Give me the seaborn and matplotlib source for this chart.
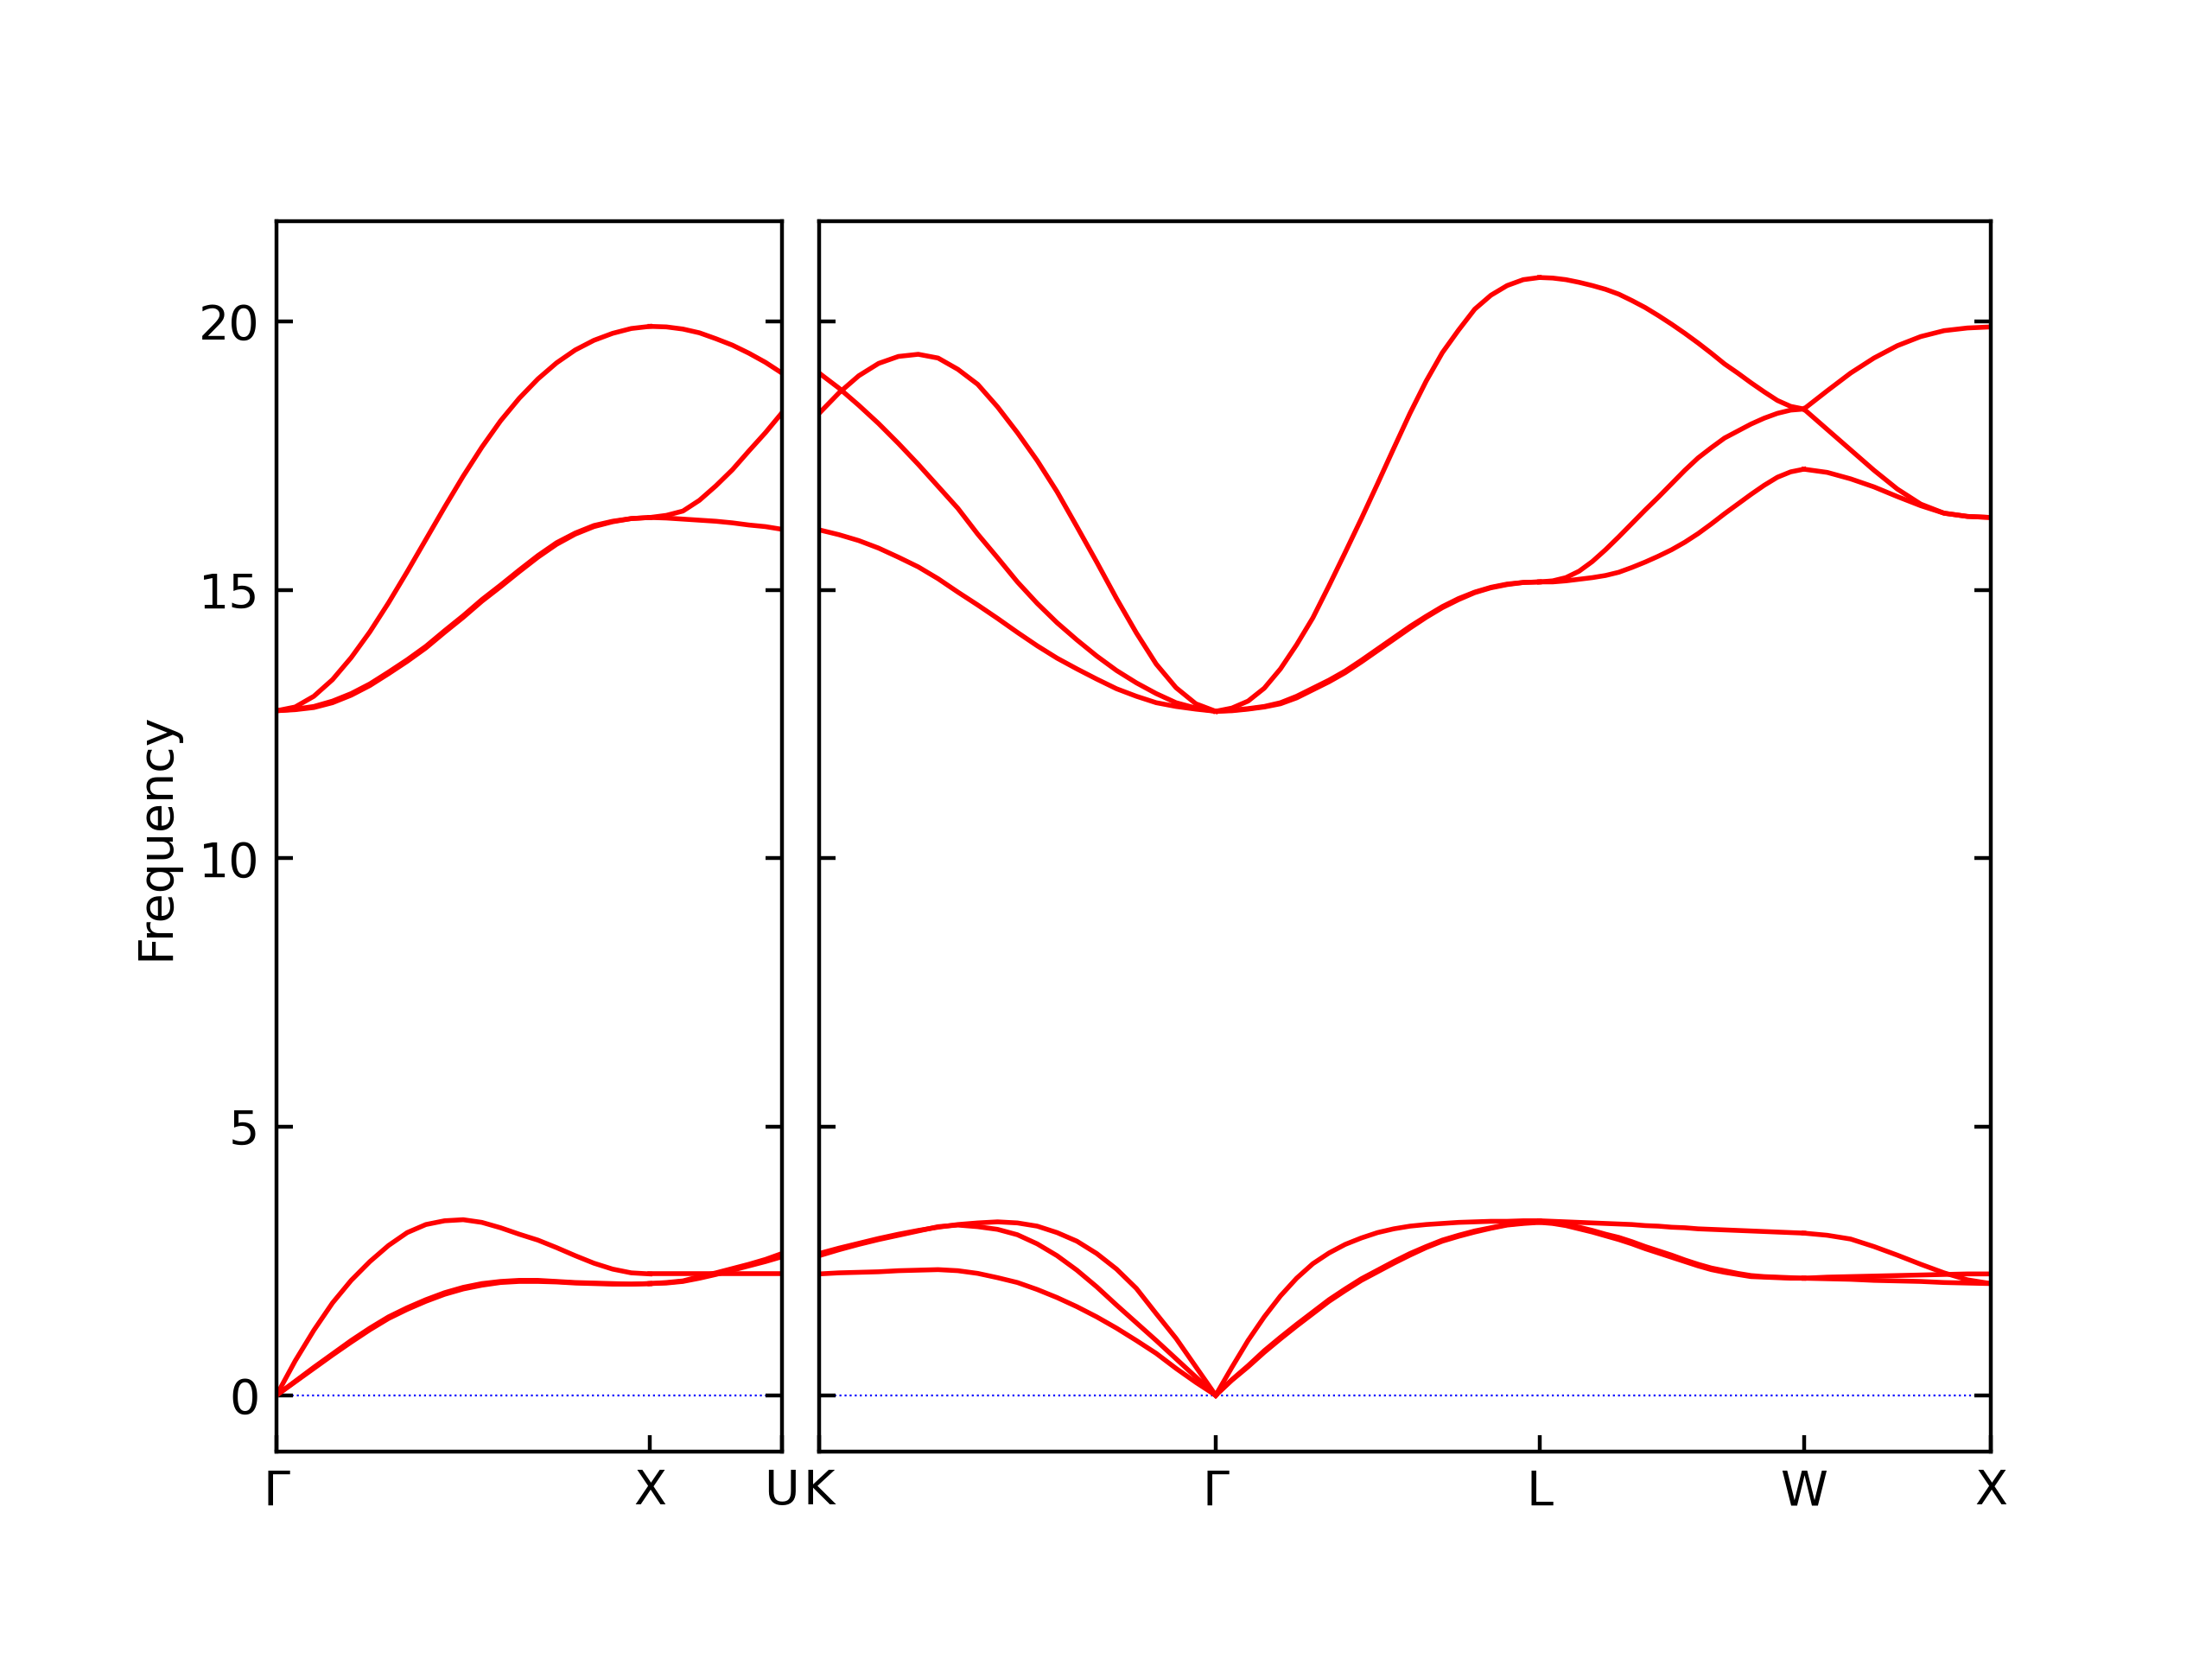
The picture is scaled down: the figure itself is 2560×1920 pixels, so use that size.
import numpy as np
import pandas as pd
import matplotlib
matplotlib.use("Agg")
import matplotlib.pyplot as plt
import seaborn as sns


# Camino en la zona de Brillouin (fcc), longitudes de cada tramo

labels_left = ["Γ", "X", "U"]
labels_right = ["K", "Γ", "L", "W", "X"]

seg_len_left = [1.0, 0.3536]
seg_len_right = [1.0607, 0.8660, 0.7071, 0.5]

frac_21 = [0.0, 0.05, 0.1, 0.15, 0.2, 0.25, 0.3, 0.35, 0.4, 0.45, 0.5,
           0.55, 0.6, 0.65, 0.7, 0.75, 0.8, 0.85, 0.9, 0.95, 1.0]
frac_9 = [0.0, 0.125, 0.25, 0.375, 0.5, 0.625, 0.75, 0.875, 1.0]

# Frecuencias (por tramo, una lista por banda)

GX = [
    [0, 0.64, 1.21, 1.72, 2.14, 2.49, 2.79, 3.03, 3.18, 3.25, 3.27,
     3.22, 3.12, 3.00, 2.89, 2.75, 2.60, 2.46, 2.35, 2.28, 2.26],
    [0, 0.26, 0.52, 0.77, 1.02, 1.25, 1.46, 1.63, 1.78, 1.91, 2.01,
     2.08, 2.12, 2.14, 2.14, 2.12, 2.10, 2.09, 2.08, 2.07, 2.08],
    [0, 0.25, 0.50, 0.75, 0.99, 1.22, 1.43, 1.60, 1.75, 1.88, 1.98,
     2.05, 2.10, 2.12, 2.12, 2.11, 2.09, 2.08, 2.07, 2.07, 2.08],
    [12.75, 12.82, 13.02, 13.33, 13.74, 14.22, 14.76, 15.34, 15.94, 16.54, 17.12,
     17.66, 18.15, 18.57, 18.93, 19.23, 19.47, 19.65, 19.78, 19.87, 19.91],
    [12.75, 12.78, 12.83, 12.93, 13.07, 13.25, 13.47, 13.70, 13.95, 14.24, 14.52,
     14.82, 15.09, 15.37, 15.64, 15.88, 16.06, 16.20, 16.28, 16.33, 16.35],
    [12.75, 12.77, 12.81, 12.90, 13.04, 13.22, 13.44, 13.67, 13.92, 14.21, 14.49,
     14.79, 15.06, 15.34, 15.61, 15.85, 16.04, 16.18, 16.27, 16.33, 16.35],
]

XU = [
    [2.26, 2.26, 2.26, 2.26, 2.26, 2.26, 2.26, 2.26, 2.26],
    [2.08, 2.10, 2.13, 2.21, 2.28, 2.36, 2.44, 2.53, 2.64],
    [2.08, 2.09, 2.12, 2.18, 2.25, 2.33, 2.41, 2.49, 2.58],
    [19.91, 19.90, 19.86, 19.79, 19.68, 19.56, 19.41, 19.24, 19.04],
    [16.35, 16.39, 16.47, 16.67, 16.94, 17.24, 17.59, 17.93, 18.30],
    [16.35, 16.34, 16.32, 16.30, 16.28, 16.25, 16.21, 16.18, 16.13],
]

KG = [
    [2.64, 2.74, 2.83, 2.92, 3.00, 3.07, 3.13, 3.18, 3.21, 3.23, 3.21,
     3.15, 3.03, 2.87, 2.64, 2.35, 1.99, 1.52, 1.06, 0.53, 0],
    [2.60, 2.71, 2.81, 2.90, 2.98, 3.06, 3.14, 3.17, 3.14, 3.09, 2.99,
     2.82, 2.60, 2.33, 2.02, 1.68, 1.35, 1.02, 0.68, 0.34, 0],
    [2.26, 2.28, 2.29, 2.30, 2.32, 2.33, 2.34, 2.32, 2.27, 2.19, 2.10,
     1.97, 1.82, 1.65, 1.46, 1.25, 1.02, 0.78, 0.50, 0.24, 0],
    [18.29, 18.67, 18.99, 19.22, 19.35, 19.39, 19.32, 19.11, 18.83, 18.41, 17.93,
     17.41, 16.83, 16.18, 15.52, 14.84, 14.20, 13.62, 13.18, 12.88, 12.74],
    [19.04, 18.76, 18.44, 18.10, 17.73, 17.34, 16.93, 16.52, 16.04, 15.60, 15.15,
     14.75, 14.39, 14.07, 13.77, 13.50, 13.27, 13.07, 12.90, 12.80, 12.74],
    [16.12, 16.03, 15.92, 15.78, 15.61, 15.43, 15.21, 14.96, 14.72, 14.47, 14.21,
     13.96, 13.73, 13.53, 13.34, 13.16, 13.02, 12.90, 12.83, 12.78, 12.74],
]

GL = [
    [0, 0.52, 1.02, 1.46, 1.85, 2.18, 2.45, 2.65, 2.81, 2.93, 3.03,
     3.10, 3.15, 3.18, 3.20, 3.22, 3.23, 3.24, 3.24, 3.25, 3.25],
    [0, 0.29, 0.55, 0.83, 1.08, 1.32, 1.55, 1.78, 1.98, 2.17, 2.33,
     2.49, 2.64, 2.77, 2.89, 2.98, 3.06, 3.12, 3.18, 3.21, 3.23],
    [0, 0.28, 0.53, 0.80, 1.05, 1.29, 1.52, 1.75, 1.95, 2.14, 2.30,
     2.46, 2.61, 2.75, 2.87, 2.96, 3.04, 3.11, 3.17, 3.20, 3.22],
    [12.74, 12.80, 12.93, 13.17, 13.53, 13.98, 14.48, 15.08, 15.70, 16.33, 16.98,
     17.64, 18.29, 18.89, 19.42, 19.84, 20.23, 20.49, 20.67, 20.78, 20.82],
    [12.74, 12.76, 12.79, 12.83, 12.90, 13.02, 13.17, 13.32, 13.49, 13.69, 13.90,
     14.11, 14.32, 14.51, 14.69, 14.84, 14.96, 15.05, 15.11, 15.14, 15.15],
    [12.74, 12.75, 12.78, 12.82, 12.88, 12.99, 13.14, 13.29, 13.46, 13.66, 13.87,
     14.08, 14.29, 14.49, 14.67, 14.82, 14.95, 15.04, 15.10, 15.14, 15.15],
]

LW = [
    [3.25, 3.24, 3.23, 3.22, 3.21, 3.20, 3.19, 3.18, 3.16, 3.15, 3.13,
     3.12, 3.10, 3.09, 3.08, 3.07, 3.06, 3.05, 3.04, 3.03, 3.02],
    [3.23, 3.21, 3.18, 3.13, 3.07, 3.00, 2.94, 2.86, 2.77, 2.69, 2.61,
     2.52, 2.44, 2.37, 2.32, 2.27, 2.23, 2.21, 2.20, 2.19, 2.18],
    [3.22, 3.20, 3.16, 3.10, 3.04, 2.97, 2.90, 2.82, 2.73, 2.65, 2.57,
     2.49, 2.41, 2.34, 2.29, 2.25, 2.21, 2.20, 2.19, 2.18, 2.18],
    [20.82, 20.81, 20.78, 20.73, 20.67, 20.60, 20.51, 20.39, 20.26, 20.11, 19.95,
     19.78, 19.60, 19.41, 19.21, 19.04, 18.86, 18.69, 18.53, 18.42, 18.37],
    [15.15, 15.17, 15.23, 15.35, 15.53, 15.75, 15.99, 16.24, 16.49, 16.73, 16.98,
     17.23, 17.46, 17.65, 17.83, 17.96, 18.09, 18.20, 18.29, 18.35, 18.37],
    [15.15, 15.15, 15.17, 15.20, 15.23, 15.27, 15.33, 15.42, 15.52, 15.63, 15.75,
     15.89, 16.05, 16.23, 16.42, 16.60, 16.78, 16.95, 17.10, 17.20, 17.25],
]

WX = [
    [3.02, 2.98, 2.91, 2.77, 2.61, 2.44, 2.28, 2.15, 2.08],
    [2.18, 2.20, 2.21, 2.22, 2.23, 2.24, 2.25, 2.26, 2.26],
    [2.18, 2.17, 2.16, 2.14, 2.13, 2.12, 2.10, 2.09, 2.08],
    [18.37, 18.71, 19.04, 19.32, 19.55, 19.72, 19.83, 19.88, 19.90],
    [18.37, 17.99, 17.61, 17.23, 16.88, 16.60, 16.43, 16.37, 16.35],
    [17.25, 17.19, 17.07, 16.92, 16.74, 16.57, 16.43, 16.37, 16.35],
]


# Tabla larga para seaborn

def tabla(segmentos, fracs, longitudes):
    filas = []
    inicio = 0.0
    for s, (bandas, fr, L) in enumerate(zip(segmentos, fracs, longitudes)):
        for b, valores in enumerate(bandas):
            for f, v in zip(fr, valores):
                filas.append({"q": inicio + f * L, "freq": v, "linea": f"{s}-{b}"})
        inicio += L
    return pd.DataFrame(filas)


df_left = tabla([GX, XU], [frac_21, frac_9], seg_len_left)
df_right = tabla([KG, GL, LW, WX], [frac_21, frac_21, frac_21, frac_9], seg_len_right)


# Figura

fig = plt.figure(figsize=(6.4, 4.8), dpi=400)

ax_l = fig.add_axes([0.125, 0.125, 0.2285, 0.7417])
ax_r = fig.add_axes([0.3703, 0.125, 0.5297, 0.7417])

paneles = [
    (ax_l, df_left, seg_len_left, labels_left),
    (ax_r, df_right, seg_len_right, labels_right),
]

for ax, df, longitudes, etiquetas in paneles:

    sns.lineplot(
        data=df,
        x="q",
        y="freq",
        units="linea",
        estimator=None,
        sort=False,
        color="red",
        linewidth=1.0,
        legend=False,
        ax=ax
    )

    ax.axhline(0, color="blue", linestyle=":", linewidth=0.4, zorder=1)

    posiciones = np.concatenate([[0.0], np.cumsum(longitudes)])
    ax.set_xlim(0, posiciones[-1])
    ax.set_ylim(-1.05, 21.87)

    ax.set_xticks(posiciones)
    ax.set_xticklabels(etiquetas)
    ax.set_yticks([0, 5, 10, 15, 20])

    ax.tick_params(
        axis="both",
        direction="in",
        top=False,
        right=True,
        left=True,
        labelsize=10
    )

    ax.set_xlabel("")
    ax.set_ylabel("")

ax_l.set_ylabel("Frequency", fontsize=10)
ax_r.tick_params(labelleft=False)

plt.savefig("out.png", dpi=400)
plt.close()
